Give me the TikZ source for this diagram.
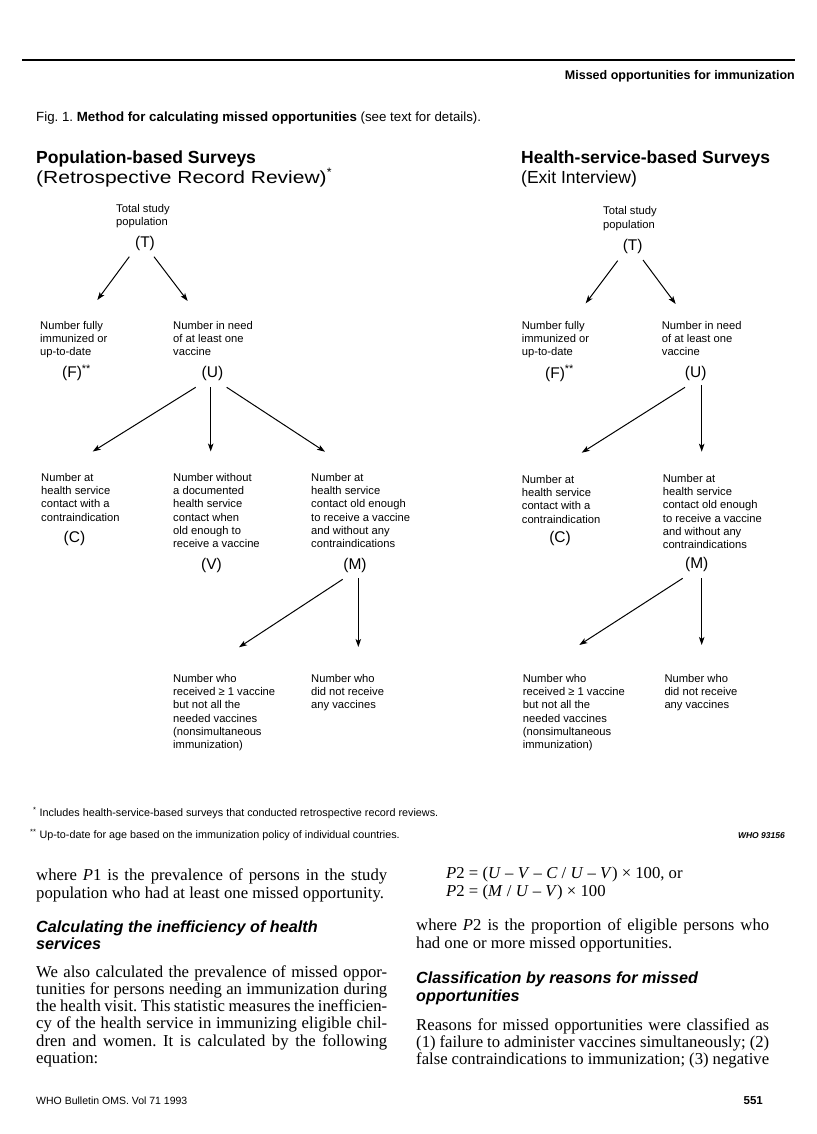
\documentclass[tikz,border=0pt]{standalone}
\usepackage{fontspec}
\setmainfont{Liberation Serif}
\setsansfont{Liberation Sans}
\usepackage{tikz}
\usetikzlibrary{arrows.meta, positioning}
\frenchspacing
\newcommand{\jline}[1]{\makebox[351pt][s]{#1}}
\newcommand{\rline}[1]{\makebox[353pt][s]{#1}}

\begin{document}
\begin{tikzpicture}[x=1pt, y=-1pt,
        txt/.style={anchor=north west, inner sep=0pt, align=left,
                    font=\sffamily\fontsize{11.2}{13.3}\selectfont},
        lbl/.style={inner sep=0pt, font=\sffamily\fontsize{15.5}{17}\selectfont},
        arr/.style={-{Stealth[length=8pt, width=5.5pt, inset=2pt]}, line width=1pt},
        body/.style={anchor=base west, inner sep=0pt, font=\fontsize{16.7}{18}\selectfont},
        subhead/.style={anchor=base west, inner sep=0pt,
                        font=\sffamily\bfseries\itshape\fontsize{16.2}{18}\selectfont},
        title/.style={anchor=base west, inner sep=0pt, font=\sffamily\bfseries\fontsize{17.5}{19}\selectfont},
        subtitle/.style={anchor=base west, inner sep=0pt, font=\sffamily\fontsize{17.5}{19}\selectfont},
        small/.style={inner sep=0pt, font=\sffamily\fontsize{10.8}{13}\selectfont},
      ]
      \useasboundingbox (0,0) rectangle (816,1134);

      % page head
      \draw[line width=1.2pt] (22,60) -- (795,60);
      \node[small, anchor=base east, font=\sffamily\bfseries\fontsize{12.5}{14}\selectfont] (runhead) at (795,80)
        {Missed opportunities for immunization};
      \node[small, anchor=base west, font=\sffamily\fontsize{13.3}{15}\selectfont] (figcap) at (36,122)
        {Fig. 1. \textbf{Method for calculating missed opportunities} (see text for details).};

      \node[title] (popTitle) at (36,163.5) {Population-based Surveys};
      \node[subtitle] (popSub) at (36,183) {\scalebox{1.2}[1]{(Retrospective Record Review)}\textsuperscript{*}};
      \node[title] (hsTitle) at (521,163.5) {Health-service-based Surveys};
      \node[subtitle] (hsSub) at (521,183) {(Exit Interview)};

      % population-based tree
      \node[txt] (popTotal) at (116,204) {Total study\\population};
      \node[lbl] (popT) at (145,243.5) {(T)};
      \node[txt] (popFtxt) at (40,321) {Number fully\\immunized or\\up-to-date};
      \node[lbl, anchor=west] (popF) at (62,373) {(F)\textsuperscript{**}};
      \node[txt] (popUtxt) at (173,321) {Number in need\\of at least one\\vaccine};
      \node[lbl] (popU) at (212.5,373) {(U)};
      \node[txt] (popCtxt) at (41,473) {Number at\\health service\\contact with a\\contraindication};
      \node[lbl] (popC) at (74.5,538) {(C)};
      \node[txt] (popVtxt) at (173,473) {Number without\\a documented\\health service\\contact when\\old enough to\\receive a vaccine};
      \node[lbl] (popV) at (211.5,565) {(V)};
      \node[txt] (popMtxt) at (311,473) {Number at\\health service\\contact old enough\\to receive a vaccine\\and without any\\contraindications};
      \node[lbl] (popM) at (355,565) {(M)};
      \node[txt] (popPartial) at (173,674) {Number who\\received ≥ 1 vaccine\\but not all the\\needed vaccines\\(nonsimultaneous\\immunization)};
      \node[txt] (popNone) at (311,674) {Number who\\did not receive\\any vaccines};

      \draw[arr] ([shift={(-15.7,13.2)}]popT.center) -- ([shift={(57.3,-21)}]popFtxt.north west);
      \draw[arr] ([shift={(9,13.2)}]popT.center) -- ([shift={(14.7,-20)}]popUtxt.north west);
      \draw[arr] ([shift={(-16.8,14.3)}]popU.center) -- ([shift={(51.7,-21.5)}]popCtxt.north west);
      \draw[arr] ([shift={(-1.8,14)}]popU.center) -- ([shift={(37.7,-21.5)}]popVtxt.north west);
      \draw[arr] ([shift={(14.2,14.3)}]popU.center) -- ([shift={(14,-21.3)}]popMtxt.north west);
      \draw[arr] ([shift={(-12.3,14.3)}]popM.center) -- ([shift={(66,-26.7)}]popPartial.north west);
      \draw[arr] ([shift={(3.3,13)}]popM.center) -- ([shift={(47.3,-27)}]popNone.north west);

      % health-service-based tree
      \node[txt] (hsTotal) at (603,206.5) {Total study\\population};
      \node[lbl] (hsT) at (632.7,246.7) {(T)};
      \node[txt] (hsFtxt) at (521.7,321) {Number fully\\immunized or\\up-to-date};
      \node[lbl, anchor=west] (hsF) at (545,373.3) {(F)\textsuperscript{**}};
      \node[txt] (hsUtxt) at (661.7,321) {Number in need\\of at least one\\vaccine};
      \node[lbl] (hsU) at (695.7,373.3) {(U)};
      \node[txt] (hsCtxt) at (521.7,475) {Number at\\health service\\contact with a\\contraindication};
      \node[lbl] (hsC) at (560,538.3) {(C)};
      \node[txt] (hsMtxt) at (662.7,474) {Number at\\health service\\contact old enough\\to receive a vaccine\\and without any\\contraindications};
      \node[lbl] (hsM) at (696.7,564) {(M)};
      \node[txt] (hsPartial) at (522.7,674) {Number who\\received ≥ 1 vaccine\\but not all the\\needed vaccines\\(nonsimultaneous\\immunization)};
      \node[txt] (hsNone) at (664.3,674) {Number who\\did not receive\\any vaccines};

      \draw[arr] ([shift={(-15,14)}]hsT.center) -- ([shift={(64,-17.7)}]hsFtxt.north west);
      \draw[arr] ([shift={(10.3,13.3)}]hsT.center) -- ([shift={(14,-17)}]hsUtxt.north west);
      \draw[arr] ([shift={(-10.7,14)}]hsU.center) -- ([shift={(60,-22.3)}]hsCtxt.north west);
      \draw[arr] ([shift={(6,11.7)}]hsU.center) -- ([shift={(39,-22.3)}]hsMtxt.north west);
      \draw[arr] ([shift={(-14,14.3)}]hsM.center) -- ([shift={(56.6,-29)}]hsPartial.north west);
      \draw[arr] ([shift={(5,14.3)}]hsM.center) -- ([shift={(37.4,-29)}]hsNone.north west);

      % footnotes
      \node[small, anchor=base west] (note1) at (33,816)
        {\textsuperscript{*} Includes health-service-based surveys that conducted retrospective record reviews.};
      \node[small, anchor=base west] (note2) at (30,838)
        {\textsuperscript{**} Up-to-date for age based on the immunization policy of individual countries.};
      \node[small, anchor=base east, font=\sffamily\bfseries\itshape\fontsize{8.5}{10}\selectfont] (whoNo) at (785,838)
        {WHO 93156};

      % left column
      \node[body] (l1) at (36,880) {\jline{where \textit{P}1 is the prevalence of persons in the study}};
      \node[body] (l2) at (36,898) {population who had at least one missed opportunity.};
      \node[subhead] (l3) at (36,932) {Calculating the inefficiency of health};
      \node[subhead] (l4) at (36,949) {services};
      \node[body] (l5) at (36,977) {\jline{We also calculated the prevalence of missed oppor-}};
      \node[body] (l6) at (36,994.3) {\jline{tunities for persons needing an immunization during}};
      \node[body] (l7) at (36,1011.6) {\jline{the health visit. This statistic measures the inefficien-}};
      \node[body] (l8) at (36,1028.9) {\jline{cy of the health service in immunizing eligible chil-}};
      \node[body] (l9) at (36,1046.2) {\jline{dren and women. It is calculated by the following}};
      \node[body] (l10) at (36,1063.5) {equation:};
      \node[small, anchor=base west, font=\sffamily\fontsize{10.5}{12}\selectfont] (journal) at (36,1104)
        {WHO Bulletin OMS. Vol 71 1993};

      % right column
      \node[body] (r1) at (446,878)
        {\textit{P}2 = (\textit{U} – \textit{V} – \textit{C} / \textit{U} – \textit{V}) × 100, or};
      \node[body] (r2) at (446,896) {\textit{P}2 = (\textit{M} / \textit{U} – \textit{V}) × 100};
      \node[body] (r3) at (416,930) {\rline{where \textit{P}2 is the proportion of eligible persons who}};
      \node[body] (r4) at (416,948) {had one or more missed opportunities.};
      \node[subhead] (r5) at (416,983.5) {Classification by reasons for missed};
      \node[subhead] (r6) at (416,1001) {opportunities};
      \node[body] (r7) at (416,1030) {\rline{Reasons for missed opportunities were classified as}};
      \node[body] (r8) at (416,1047.3) {\rline{(1) failure to administer vaccines simultaneously; (2)}};
      \node[body] (r9) at (416,1064.6) {\rline{false contraindications to immunization; (3) negative}};
      \node[small, anchor=base east, font=\sffamily\bfseries\fontsize{11.5}{13}\selectfont] (pageNo) at (763,1104)
        {551};
    \end{tikzpicture}
\end{document}
